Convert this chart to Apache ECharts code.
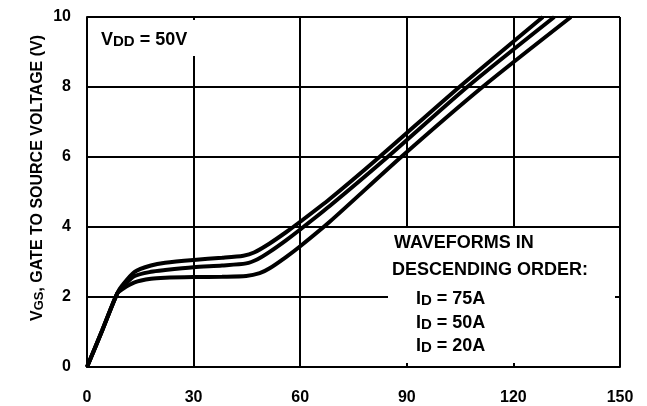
<!DOCTYPE html>
<html>
<head>
<meta charset="utf-8">
<script src="https://cdn.jsdelivr.net/npm/echarts@6/dist/echarts.min.js"></script>
<style>
  html, body { margin: 0; padding: 0; background: #fff; }
  #chart { width: 647px; height: 406px; }
</style>
</head>
<body>
<div id="chart"></div>
<script>
// Gate charge (nC) vs V_GS (V)
const xTicks = [0, 30, 60, 90, 120, 150];
const yTicks = [0, 2, 4, 6, 8, 10];

const id75A = [
  [0, 0], [4.3, 1.05], [8.5, 2.1], [10, 2.34], [13.4, 2.72], [18, 2.9], [22, 2.98],
  [30, 3.06], [38, 3.12], [44, 3.18], [47, 3.27], [51.4, 3.53], [56, 3.85],
  [60, 4.15], [68.3, 4.8], [82.3, 6], [104.8, 8], [128.3, 10]
];
const id50A = [
  [0, 0], [4.3, 1.05], [8.5, 2.1], [10, 2.29], [13.4, 2.6], [18, 2.72], [22, 2.77],
  [30, 2.85], [38, 2.9], [44.8, 2.96], [48, 3.08], [51.4, 3.29], [56, 3.62],
  [60, 3.93], [68.3, 4.6], [84.6, 6], [107, 8], [131.5, 10]
];
const id20A = [
  [0, 0], [4.3, 1.05], [8.5, 2.1], [10, 2.23], [13.4, 2.42], [18, 2.52], [22, 2.55],
  [30, 2.57], [38, 2.58], [44.8, 2.6], [48.6, 2.68], [51.4, 2.82], [56, 3.14],
  [60, 3.45], [68.3, 4.15], [88.4, 6], [111.3, 8], [136.2, 10]
];
const seriesNames = ['ID = 75A', 'ID = 50A', 'ID = 20A'];

const FONT = '"Liberation Sans", Arial, Helvetica, sans-serif';

// main text tokens and subscript tokens, aligned to the line bottom
function richStyles(mainSize, subSize, mainLH, subLH) {
  return {
    m: { fontFamily: FONT, fontWeight: 'bold', fontSize: mainSize, lineHeight: mainLH, verticalAlign: 'bottom', fill: '#000', color: '#000' },
    s: { fontFamily: FONT, fontWeight: 'bold', fontSize: subSize, lineHeight: subLH, verticalAlign: 'bottom', fill: '#000', color: '#000' }
  };
}

const chart = echarts.init(document.getElementById('chart'), null, { renderer: 'canvas' });

const lineSeries = [id75A, id50A, id20A].map((d, i) => ({
  name: seriesNames[i],
  type: 'line',
  data: d,
  symbol: 'none',
  smooth: 0.25,
  lineStyle: { color: '#000', width: 4 },
  z: 3
}));

chart.setOption({
  animation: false,
  backgroundColor: '#fff',
  grid: { left: 87, right: 27, top: 17, bottom: 39, containLabel: false },
  xAxis: {
    type: 'value',
    min: xTicks[0],
    max: xTicks[xTicks.length - 1],
    interval: xTicks[1] - xTicks[0],
    axisLine: { show: true, lineStyle: { color: '#000', width: 2 } },
    axisTick: { show: false },
    splitLine: { show: true, lineStyle: { color: '#000', width: 2 } },
    axisLabel: { color: '#000', fontFamily: FONT, fontWeight: 'bold', fontSize: 16, margin: 23 }
  },
  yAxis: {
    type: 'value',
    min: yTicks[0],
    max: yTicks[yTicks.length - 1],
    interval: yTicks[1] - yTicks[0],
    axisLine: { show: true, lineStyle: { color: '#000', width: 2 } },
    axisTick: { show: false },
    splitLine: { show: true, lineStyle: { color: '#000', width: 2 } },
    axisLabel: { color: '#000', fontFamily: FONT, fontWeight: 'bold', fontSize: 16, margin: 16 }
  },
  graphic: [
    // white backing for V_DD label
    { type: 'rect', z: 10, shape: { x: 97, y: 20, width: 104, height: 36 }, style: { fill: '#fff' } },
    { type: 'text', z: 11, x: 101, y: 35,
      style: { text: '{m|V}{s|DD}{m| = 50V}', rich: richStyles(18, 15, 28, 18), verticalAlign: 'middle' } },
    // white backing for legend note
    { type: 'rect', z: 10, shape: { x: 388, y: 228, width: 227, height: 135 }, style: { fill: '#fff' } },
    { type: 'text', z: 11, x: 394, y: 243,
      style: { text: '{m|WAVEFORMS IN}', rich: richStyles(18, 15, 18, 18), verticalAlign: 'middle' } },
    { type: 'text', z: 11, x: 392, y: 270,
      style: { text: '{m|DESCENDING ORDER:}', rich: richStyles(18, 15, 18, 18), verticalAlign: 'middle' } },
    { type: 'text', z: 11, x: 416, y: 294,
      style: { text: '{m|I}{s|D}{m| = 75A}', rich: richStyles(18, 15, 28, 18), verticalAlign: 'middle' } },
    { type: 'text', z: 11, x: 416, y: 318,
      style: { text: '{m|I}{s|D}{m| = 50A}', rich: richStyles(18, 15, 28, 18), verticalAlign: 'middle' } },
    { type: 'text', z: 11, x: 416, y: 341,
      style: { text: '{m|I}{s|D}{m| = 20A}', rich: richStyles(18, 15, 28, 18), verticalAlign: 'middle' } },
    // y axis title
    { type: 'text', z: 11, x: 34, y: 178, rotation: Math.PI / 2,
      style: { text: '{m|V}{s|GS}{m|, GATE TO SOURCE VOLTAGE (V)}', rich: richStyles(16, 13, 24, 16),
               align: 'center', verticalAlign: 'middle' } }
  ],
  series: lineSeries
});
</script>
</body>
</html>
